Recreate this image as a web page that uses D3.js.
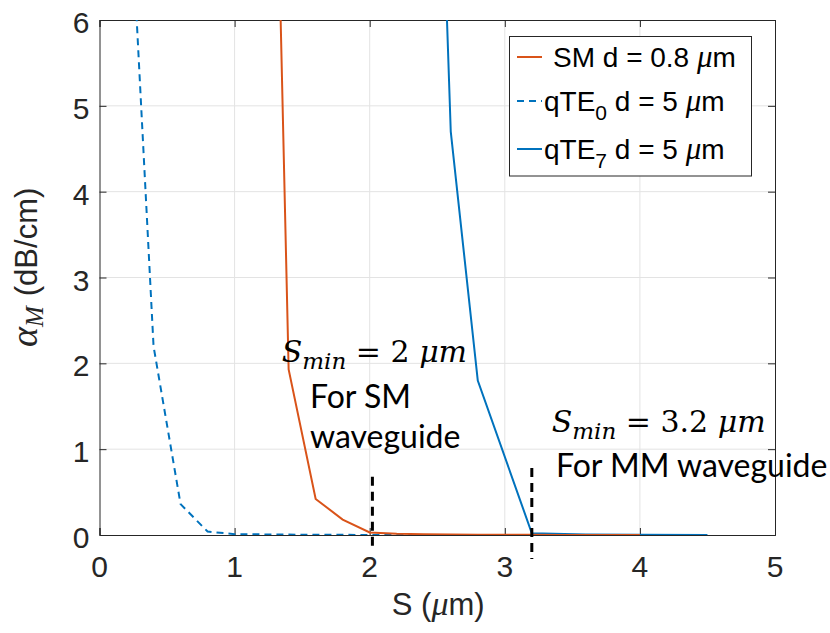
<!DOCTYPE html>
<html>
<head>
<meta charset="utf-8">
<script src="https://cdn.jsdelivr.net/npm/d3@7"></script>
<style>
  html, body { margin: 0; padding: 0; background: #fff; }
  svg { display: block; }
</style>
</head>
<body>
<svg id="chart" width="830" height="633"></svg>
<script>
// ---------------- data ----------------
const xTicks = [0, 1, 2, 3, 4, 5];
const yTicks = [0, 1, 2, 3, 4, 5, 6];

const smX = [1.2, 1.4, 1.6, 1.8, 2.0, 2.2, 2.4, 2.6, 2.8, 3.0, 3.2, 3.4, 3.6, 3.8, 4.0];
const smY = [15.7, 1.93, 0.42, 0.18, 0.03, 0.015, 0.01, 0.006, 0.004, 0.003, 0.002, 0.001, 0.001, 0.001, 0.001];

const qte0X = [0.2, 0.4, 0.6, 0.8, 1.0, 1.5, 2.0, 2.5, 3.0, 3.5, 4.0, 4.5];
const qte0Y = [8.3, 2.2, 0.36, 0.04, 0.01, 0.003, 0.001, 0.001, 0.001, 0.001, 0.001, 0.001];

const qte7X = [2.4, 2.6, 2.8, 3.2, 3.6, 4.0, 4.5];
const qte7Y = [14.0, 4.7, 1.8, 0.02, 0.005, 0.002, 0.001];

const legendLabels = ["SM", "qTE", "qTE"];
const legendSubs = ["", "0", "7"];
const legendTails = [" d = 0.8 ", " d = 5 ", " d = 5 "];

const sminLines = [ {x: 2.02, y0: 0.68, y1: -0.13}, {x: 3.2, y0: 0.78, y1: -0.28} ];
const sminValues = ["2", "3.2"];
const noteMath = [ {x: 1.349, y: 2.02}, {x: 3.347, y: 1.20} ];
const noteText = [
  {x: 1.558, y: 1.48, t: "For SM"},
  {x: 1.558, y: 1.01, t: "waveguide"},
  {x: 3.379, y: 0.672, t: "For MM waveguide"}
];

// ---------------- layout ----------------
const L = 99.5, R = 775, T = 20, B = 535;
const svg = d3.select("#chart");
const x = d3.scaleLinear().domain([0, 5]).range([L, R]);
const y = d3.scaleLinear().domain([0, 6]).range([B, T]);
const axisCol = "#262626";
const orange = "#D95319", blue = "#0072BD";
const sans = "'Liberation Sans', Arial, Helvetica, sans-serif";

svg.append("defs").append("clipPath").attr("id", "clip")
  .append("rect").attr("x", L).attr("y", T).attr("width", R - L).attr("height", B - T);

// grid
const g = svg.append("g");
g.selectAll(".gx").data(xTicks.slice(1, -1)).enter().append("line")
  .attr("x1", d => x(d)).attr("x2", d => x(d)).attr("y1", T).attr("y2", B)
  .attr("stroke", "#e3e3e3").attr("stroke-width", 1);
g.selectAll(".gy").data(yTicks.slice(1, -1)).enter().append("line")
  .attr("y1", d => y(d)).attr("y2", d => y(d)).attr("x1", L).attr("x2", R)
  .attr("stroke", "#e3e3e3").attr("stroke-width", 1);

// box + ticks via d3 axes
const tl = 7;
svg.append("g").attr("transform", `translate(0,${B})`)
  .call(d3.axisBottom(x).tickValues(xTicks).tickSize(-tl).tickFormat(""))
  .call(s => { s.select(".domain").attr("stroke", axisCol); s.selectAll("line").attr("stroke", axisCol); });
svg.append("g").attr("transform", `translate(0,${T})`)
  .call(d3.axisTop(x).tickValues(xTicks).tickSize(-tl).tickFormat(""))
  .call(s => { s.select(".domain").attr("stroke", axisCol); s.selectAll("line").attr("stroke", axisCol); });
svg.append("g").attr("transform", `translate(${L},0)`)
  .call(d3.axisLeft(y).tickValues(yTicks).tickSize(-tl).tickFormat(""))
  .call(s => { s.select(".domain").attr("stroke", axisCol); s.selectAll("line").attr("stroke", axisCol); });
svg.append("g").attr("transform", `translate(${R},0)`)
  .call(d3.axisRight(y).tickValues(yTicks).tickSize(-tl).tickFormat(""))
  .call(s => { s.select(".domain").attr("stroke", axisCol); s.selectAll("line").attr("stroke", axisCol); });

// tick labels
svg.selectAll(".xl").data(xTicks).enter().append("text")
  .attr("x", d => x(d)).attr("y", B + 42).attr("text-anchor", "middle")
  .attr("font-family", sans).attr("font-size", 30).attr("fill", axisCol).text(d => d);
svg.selectAll(".yl").data(yTicks).enter().append("text")
  .attr("x", L - 10).attr("y", d => y(d) + 13).attr("text-anchor", "end")
  .attr("font-family", sans).attr("font-size", 30).attr("fill", axisCol).text(d => d);

// axis labels
const xl = svg.append("text").attr("x", (L + R) / 2 + 1).attr("y", 615).attr("text-anchor", "middle")
  .attr("font-family", sans).attr("font-size", 31).attr("fill", axisCol);
xl.append("tspan").text("S (");
xl.append("tspan").attr("font-style", "italic").attr("font-family", "'Liberation Serif', serif").attr("font-size", 34).text("μ");
xl.append("tspan").text("m)");

const yl = svg.append("text").attr("transform", "translate(37,347) rotate(-90)")
  .attr("font-family", sans).attr("font-size", 31).attr("fill", axisCol);
yl.append("tspan").attr("font-family", "'Liberation Serif', 'DejaVu Serif', serif").attr("font-style", "italic").attr("font-size", 38).text("α");
yl.append("tspan").attr("font-family", "'Liberation Serif', 'DejaVu Serif', serif").attr("font-style", "italic").attr("font-size", 25).attr("dy", 6).text("M");
yl.append("tspan").attr("dy", -6).attr("dx", 10).text("(dB/cm)");

// series
const line = d3.line().x(d => x(d[0])).y(d => y(d[1]));
const plot = svg.append("g").attr("clip-path", "url(#clip)");
plot.append("path").datum(d3.zip(qte7X, qte7Y)).attr("d", line)
  .attr("fill", "none").attr("stroke", blue).attr("stroke-width", 2);
plot.append("path").datum(d3.zip(qte0X, qte0Y)).attr("d", line)
  .attr("fill", "none").attr("stroke", blue).attr("stroke-width", 2).attr("stroke-dasharray", "7,5");
plot.append("path").datum(d3.zip(smX, smY)).attr("d", line)
  .attr("fill", "none").attr("stroke", orange).attr("stroke-width", 2);

// vertical markers
svg.selectAll(".vm").data(sminLines).enter().append("line")
  .attr("x1", d => x(d.x)).attr("x2", d => x(d.x)).attr("y1", d => y(d.y0)).attr("y2", d => y(d.y1))
  .attr("stroke", "#000").attr("stroke-width", 3).attr("stroke-dasharray", "9,6");

// math annotations
const mathFont = "'DejaVu Serif', 'Liberation Serif', serif";
noteMath.forEach((p, i) => {
  const t = svg.append("text").attr("x", x(p.x)).attr("y", y(p.y))
    .attr("font-family", mathFont).attr("font-size", 30).attr("fill", "#000");
  t.append("tspan").attr("font-style", "italic").text("S");
  t.append("tspan").attr("font-style", "italic").attr("font-size", 23).attr("dy", 7).text("min");
  t.append("tspan").attr("dy", -7).text(" = " + sminValues[i] + " ");
  t.append("tspan").attr("font-style", "italic").text("μm");
});
svg.selectAll(".nt").data(noteText).enter().append("text")
  .attr("x", d => x(d.x)).attr("y", d => y(d.y))
  .attr("font-family", "Lato, 'Open Sans', sans-serif").attr("font-size", 32).attr("fill", "#000")
  .text(d => d.t);

// legend
const lg = svg.append("g");
lg.append("rect").attr("x", 509.5).attr("y", 36.5).attr("width", 242).attr("height", 139.5)
  .attr("fill", "#fff").attr("stroke", axisCol).attr("stroke-width", 1);
const rowY = [57, 101, 149];
const styles = [{c: orange, d: null}, {c: blue, d: "7,5"}, {c: blue, d: null}];
legendLabels.forEach((lab, i) => {
  lg.append("line").attr("x1", 517).attr("x2", 542).attr("y1", rowY[i]).attr("y2", rowY[i])
    .attr("stroke", styles[i].c).attr("stroke-width", 2).attr("stroke-dasharray", styles[i].d);
  const t = lg.append("text").attr("x", i === 0 ? 553 : 544).attr("y", rowY[i] + 10)
    .attr("font-family", sans).attr("font-size", 28).attr("fill", "#000");
  t.append("tspan").text(lab);
  if (legendSubs[i]) {
    t.append("tspan").attr("font-size", 21).attr("dy", 9).text(legendSubs[i]);
    t.append("tspan").attr("dy", -9).text(legendTails[i]);
  } else {
    t.append("tspan").text(legendTails[i]);
  }
  t.append("tspan").attr("font-style", "italic").attr("font-family", "'Liberation Serif', serif").attr("font-size", 31).text("μ");
  t.append("tspan").text("m");
});
</script>
</body>
</html>
